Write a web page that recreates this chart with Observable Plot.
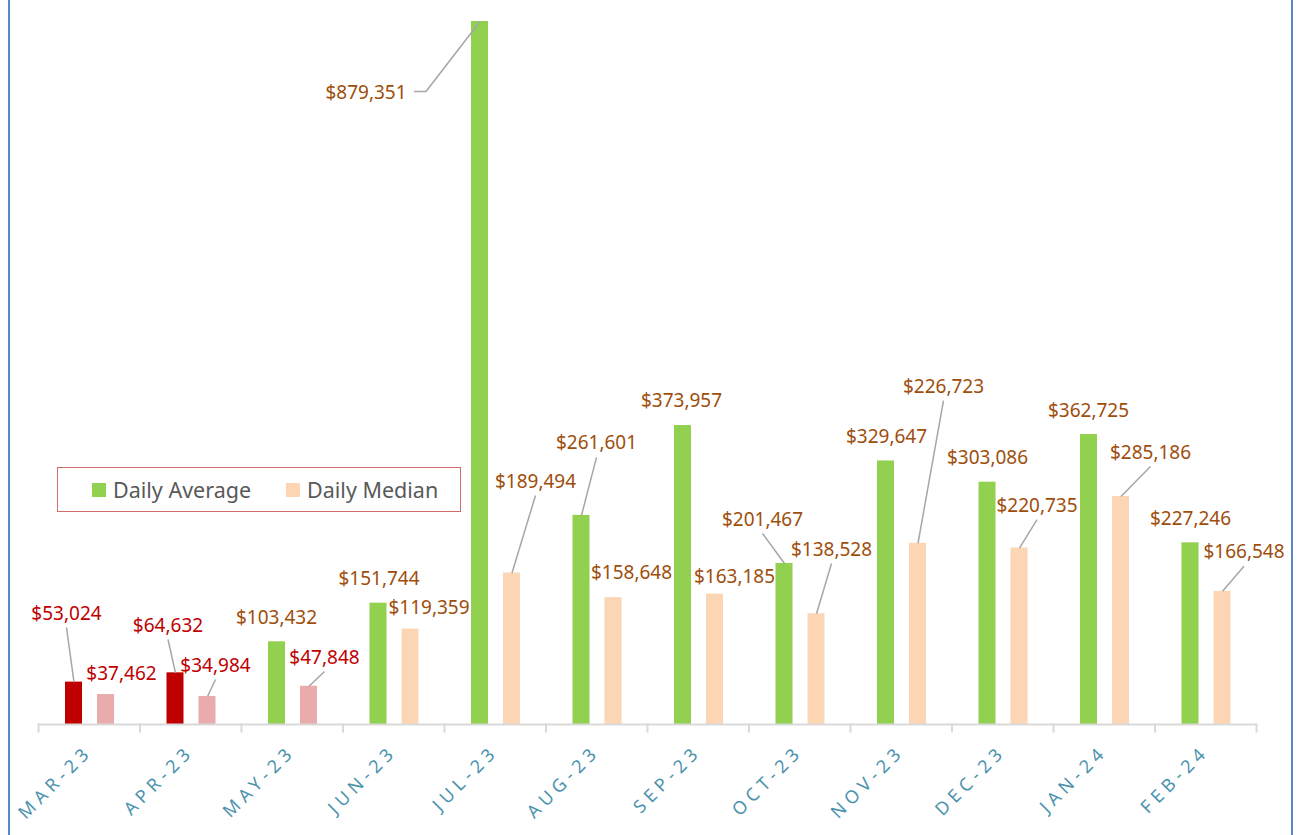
<!DOCTYPE html>
<html>
<head>
<meta charset="utf-8">
<script src="https://cdn.jsdelivr.net/npm/d3@7"></script>
<script src="https://cdn.jsdelivr.net/npm/@observablehq/plot@0.6"></script>
<style>
  html, body { margin: 0; padding: 0; background: #fff; }
  body { width: 1297px; height: 835px; position: relative; overflow: hidden; font-family: "Noto Sans", sans-serif; }
  #chart { position: absolute; left: 0; top: 0; }
  #frame { position: absolute; left: 8px; top: -10px; width: 1281px; height: 900px;
           border-left: 2px solid #5a87cc; border-right: 2px solid #5a87cc; pointer-events: none; }
  #legend { position: absolute; left: 57px; top: 467px; width: 404px; height: 45px;
            border: 1px solid #d46a6a; display: flex; align-items: center;
            font-size: 21.5px; color: #595959; padding-left: 34px; box-sizing: border-box; background: #fff; }
  #legend .item { display: flex; align-items: center; }
  #legend .item + .item { margin-left: 35px; }
  #legend .sw { width: 14px; height: 14px; margin-right: 7px; }
  #chart [aria-label="x-axis tick label"] { letter-spacing: 5px; }
</style>
</head>
<body>
<div id="chart"></div>
<div id="legend"></div>
<div id="frame"></div>
<script>
// ---- data ----
const months = ["MAR-23","APR-23","MAY-23","JUN-23","JUL-23","AUG-23","SEP-23","OCT-23","NOV-23","DEC-23","JAN-24","FEB-24"];
const seriesNames = ["Daily Average", "Daily Median"];
const dailyAverage = [53024, 64632, 103432, 151744, 879351, 261601, 373957, 201467, 329647, 303086, 362725, 227246];
const dailyMedian  = [37462, 34984, 47848, 119359, 189494, 158648, 163185, 138528, 226723, 220735, 285186, 166548];
const lowThreshold = 100000; // values below are highlighted in red

// ---- label layout (pixel offsets of label centre from bar top centre) ----
const avgLabelDx = [-7.5, -7.5, -0.5, 0.5, -114, 15, -1.5, -22, 0.5, 0, -0.5, 0];
const avgLabelDy = [-68.6, -47.3, -24.3, -24.7, 71, -72, -25, -44, -24.5, -24.7, -24, -24.3];
const avgLeader  = ["line","line","","","elbow","line","","line","","","",""];
const medLabelDx = [15.5, 8, 15.5, 18.5, 23.5, 18, 19.5, 15, 25.5, 17.5, 29.5, 21.5];
const medLabelDy = [-21, -31, -28.7, -21, -91.5, -24.7, -17.5, -64.3, -156.7, -42.5, -44, -39];
const medLeader  = ["","line","line","","line","","","line","line","line","line","line"];

// ---- styles ----
const colors = {
  "Daily Average": {normal: "#92d050", low: "#c00000"},
  "Daily Median":  {normal: "#fcd5b4", low: "#e9abab"}
};
const labelColor = {normal: "#9e4e0c", low: "#c00000"};
const barInsets = {"Daily Average": [27, 57.5], "Daily Median": [59, 25.5]};
const barWidth = 17;

const rows = months.flatMap((m, i) => [
  {month: m, series: seriesNames[0], value: dailyAverage[i], ldx: avgLabelDx[i], ldy: avgLabelDy[i], leader: avgLeader[i]},
  {month: m, series: seriesNames[1], value: dailyMedian[i],  ldx: medLabelDx[i], ldy: medLabelDy[i], leader: medLeader[i]}
]);
const fmt = d3.format("$,");

// scales.x in render returns the band centre
function bandStart(sc, m) { return sc.x(m) - sc.x.bandwidth() / 2; }
function barTop(sc, d) {
  return [bandStart(sc, d.month) + barInsets[d.series][0] + barWidth / 2, sc.y(d.value)];
}
function placed(data, compute) {
  return function(index, scales, values, dims, ctx, next) {
    const out = {...values};
    const keys = Object.keys(compute(data[index[0]], scales));
    for (const k of keys) out[k] = new Float64Array(data.length);
    for (const i of index) {
      const r = compute(data[i], scales);
      for (const k of keys) out[k][i] = r[k];
    }
    return next(index, scales, out, dims, ctx);
  };
}

const segs = rows.flatMap(d => d.leader === "line" ? [{d, kind: "line"}]
  : d.leader === "elbow" ? [{d, kind: "h"}, {d, kind: "diag"}] : []);

const bounds = months.map(m => ({month: m, end: false})).concat([{month: months[months.length - 1], end: true}]);

const marks = [];
for (const s of seriesNames) {
  marks.push(Plot.barY(rows.filter(d => d.series === s), {
    x: "month", y: "value",
    fill: d => d.value < lowThreshold ? colors[s].low : colors[s].normal,
    insetLeft: barInsets[s][0], insetRight: barInsets[s][1]
  }));
}
marks.push(Plot.ruleY([0], {stroke: "#d9d9d9", strokeWidth: 2}));
marks.push(Plot.link(bounds, {
  x1: "month", x2: "month", y1: () => 0, y2: () => 0,
  stroke: "#d9d9d9", strokeWidth: 2,
  render: placed(bounds, (b, sc) => {
    const x = bandStart(sc, b.month) + (b.end ? sc.x.bandwidth() : 0);
    const y = sc.y(0);
    return {x1: x, x2: x, y1: y - 1, y2: y + 8};
  })
}));
marks.push(Plot.link(segs, {
  x1: s => s.d.month, x2: s => s.d.month, y1: s => s.d.value, y2: s => s.d.value,
  stroke: "#a6a6a6", strokeWidth: 1.5,
  render: placed(segs, (s, sc) => {
    const [bx, by] = barTop(sc, s.d);
    const lx = bx + s.d.ldx, ly = by + s.d.ldy;
    if (s.kind === "line") return {x1: lx, y1: ly + 14, x2: bx, y2: by};
    if (s.kind === "h") return {x1: lx + 48, y1: ly - 1, x2: lx + 60, y2: ly - 1};
    return {x1: lx + 60, y1: ly - 1, x2: bx, y2: by};
  })
}));
marks.push(Plot.text(rows, {
  x: "month", y: "value", text: d => fmt(d.value),
  fill: d => d.value < lowThreshold ? labelColor.low : labelColor.normal,
  fontSize: 19, textAnchor: "middle", lineAnchor: "middle",
  render: placed(rows, (d, sc) => {
    const [bx, by] = barTop(sc, d);
    return {x: bx + d.ldx, y: by + d.ldy};
  })
}));
marks.push(Plot.axisX({
  tickSize: 0, tickRotate: -45, tickPadding: 24, fontSize: 18,
  color: "#4d93ae", label: null
}));

const chart = Plot.plot({
  width: 1297, height: 835,
  marginLeft: 38, marginRight: 41, marginTop: 21, marginBottom: 111,
  style: {fontFamily: "Noto Sans", background: "transparent", overflow: "visible"},
  x: {domain: months, padding: 0, round: false, axis: null},
  y: {domain: [0, d3.max(dailyAverage)], axis: null},
  color: {type: "identity"},
  marks
});
document.getElementById("chart").appendChild(chart);

// legend
const legend = document.getElementById("legend");
for (const s of seriesNames) {
  const item = document.createElement("div");
  item.className = "item";
  item.innerHTML = `<span class="sw" style="background:${colors[s].normal}"></span><span>${s}</span>`;
  legend.appendChild(item);
}
</script>
</body>
</html>
